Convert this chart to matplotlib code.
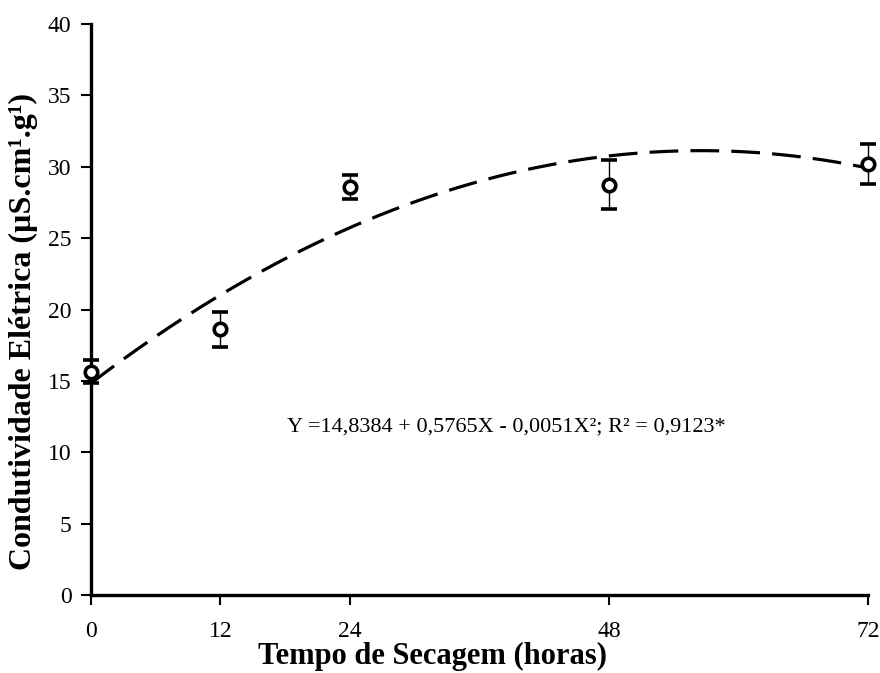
# electrical conductivity of seeds vs. drying time, with quadratic fit

import numpy as np
import matplotlib.pyplot as plt

plt.rcParams['font.family'] = ['Liberation Serif', 'DejaVu Serif']

# measured means and error bars
hours = [0, 12, 24, 48, 72]
conductivity = [15.65, 18.6, 28.6, 28.75, 30.2]
errors = [0.8, 1.25, 0.85, 1.7, 1.4]

# regression coefficients
b0, b1, b2 = 14.8384, 0.5765, -0.0051
equation = 'Y =14,8384 + 0,5765X - 0,0051X²; R² = 0,9123*'

fig = plt.figure(figsize=(8.8, 6.73), dpi=100)
ax = fig.add_axes([0.1034, 0.1159, 0.8830, 0.8484])

xs = np.linspace(0, 72, 300)
ax.plot(xs, b0 + b1 * xs + b2 * xs ** 2, color='black', lw=2.3,
        dashes=(9, 3.8), clip_on=False)

ax.errorbar(hours, conductivity, yerr=errors, fmt='o', color='black',
            ecolor='black', elinewidth=1.0, capsize=6, capthick=1.0,
            markersize=9, markerfacecolor='white', markeredgecolor='black',
            markeredgewidth=2.6, clip_on=False, zorder=3)

ax.text(38.5, 11.8, equation, fontsize=16, ha='center', va='center')

ax.set_xlim(0, 72)
ax.set_ylim(0, 40)
ax.set_xticks(hours)
ax.set_yticks(np.arange(0, 41, 5))
ax.tick_params(labelsize=17, width=1.5, length=7, direction='out', pad=7)
ax.tick_params(axis='x', pad=12)

for side in ['top', 'right']:
    ax.spines[side].set_visible(False)
for side in ['left', 'bottom']:
    ax.spines[side].set_linewidth(2.4)

ax.set_xlabel('Tempo de Secagem (horas)', fontsize=22, fontweight='bold')
ax.xaxis.set_label_coords(0.44, -0.082)
ax.set_ylabel('Condutividade Elétrica (µS.cm¹.g¹)', fontsize=23,
              fontweight='bold')
ax.yaxis.set_label_coords(-0.068, 0.462)

plt.savefig('out.png', dpi=100)
